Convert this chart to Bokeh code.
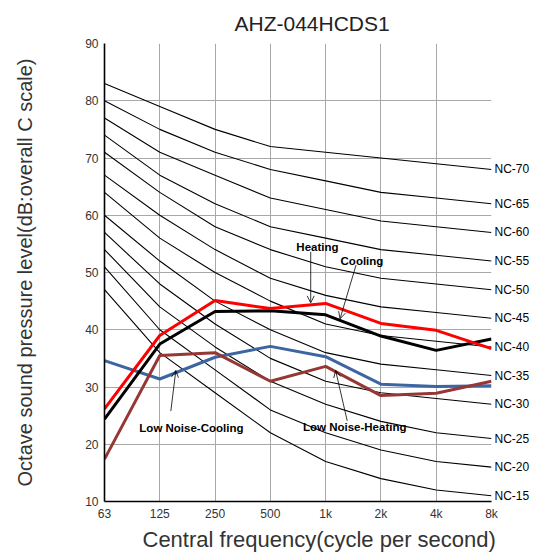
from bokeh.plotting import figure
from bokeh.models import (Range1d, FixedTicker, LinearAxis, Label, Arrow, OpenHead, Title)
from bokeh.embed import file_html
from bokeh.resources import INLINE

# ---- data ----
freq_labels = ["63", "125", "250", "500", "1k", "2k", "4k", "8k"]
y_ticks = [10, 20, 30, 40, 50, 60, 70, 80, 90]

nc15 = [47, 36, 29, 22, 17, 14, 12, 11]
nc20 = [51, 40, 33, 26, 22, 19, 17, 16]
nc25 = [54, 44, 37, 31, 27, 24, 22, 21]
nc30 = [57, 48, 41, 35, 31, 29, 28, 27]
nc35 = [60, 52, 45, 40, 36, 34, 33, 32]
nc40 = [64, 56, 50, 45, 41, 39, 38, 37]
nc45 = [67, 60, 54, 49, 46, 44, 43, 42]
nc50 = [71, 64, 58, 54, 51, 49, 48, 47]
nc55 = [74, 67, 62, 58, 56, 54, 53, 52]
nc60 = [77, 71, 67, 63, 61, 59, 58, 57]
nc65 = [80, 75, 71, 68, 66, 64, 63, 62]
nc70 = [83, 79, 75, 72, 71, 70, 69, 68]
nc_names = ["NC-15", "NC-20", "NC-25", "NC-30", "NC-35", "NC-40",
            "NC-45", "NC-50", "NC-55", "NC-60", "NC-65", "NC-70"]

heating = [26.2, 39.0, 45.1, 43.7, 44.6, 41.1, 39.9, 36.7]
cooling = [24.4, 37.5, 43.2, 43.3, 42.6, 38.9, 36.4, 38.4]
ln_cooling = [34.6, 31.4, 35.2, 37.1, 35.3, 30.5, 30.1, 30.2]
ln_heating = [17.4, 35.5, 36.0, 31.0, 33.6, 28.5, 28.9, 31.0]

nc_curves = [nc15, nc20, nc25, nc30, nc35, nc40, nc45, nc50, nc55, nc60, nc65, nc70]
xs = list(range(len(freq_labels)))

FONT = "Liberation Sans"

p = figure(width=535, height=552, output_backend="svg", toolbar_location=None,
           x_range=Range1d(0, 7), y_range=Range1d(10, 90),
           min_border_left=104, min_border_right=44, min_border_top=42,
           min_border_bottom=50)
p.outline_line_color = None
p.background_fill_color = "white"
p.border_fill_color = "white"

p.title.text = "AHZ-044HCDS1"
p.title.align = "left"
p.title.offset = 130
p.title.text_font = FONT
p.title.text_font_size = "21px"
p.title.text_font_style = "normal"
p.title.text_color = "#222222"
p.title.standoff = 18

# axes
p.xaxis.ticker = FixedTicker(ticks=xs)
p.xaxis.major_label_overrides = {i: lab for i, lab in enumerate(freq_labels)}
p.yaxis.ticker = FixedTicker(ticks=y_ticks)
for ax in (p.xaxis[0], p.yaxis[0]):
    ax.axis_line_color = "black"
    ax.axis_line_width = 1.6
    ax.major_tick_line_color = None
    ax.minor_tick_line_color = None
    ax.major_tick_out = 0
    ax.major_tick_in = 0
    ax.major_label_text_font = FONT
    ax.major_label_text_font_size = "12px"
    ax.major_label_text_color = "#333333"
p.xaxis.major_label_standoff = 5
p.yaxis.major_label_standoff = 6

p.yaxis.axis_label = "Octave sound pressure level(dB:overall C scale)"
p.yaxis.axis_label_text_font = FONT
p.yaxis.axis_label_text_font_size = "20px"
p.yaxis.axis_label_text_font_style = "normal"
p.yaxis.axis_label_text_color = "#333333"
p.yaxis.axis_label_standoff = 46

p.xgrid.ticker = FixedTicker(ticks=xs)
p.ygrid.ticker = FixedTicker(ticks=y_ticks)
p.grid.grid_line_color = "#a8a8a8"
p.grid.grid_line_width = 1

# right axis carrying NC labels
nc_end = [c[-1] for c in nc_curves]
rax = LinearAxis(ticker=FixedTicker(ticks=nc_end),
                 major_label_overrides={v: n for v, n in zip(nc_end, nc_names)})
rax.axis_line_color = None
rax.major_tick_line_color = None
rax.minor_tick_line_color = None
rax.major_tick_out = 0
rax.major_tick_in = 0
rax.major_label_standoff = 3
rax.major_label_text_font = FONT
rax.major_label_text_font_size = "12px"
rax.major_label_text_color = "black"
p.add_layout(rax, "right")

# x axis title below (offset like the reference)
xt = Title(text="Central frequency(cycle per second)", align="left", offset=38,
           text_font=FONT, text_font_size="22px", text_font_style="normal",
           text_color="#333333", standoff=2)
p.add_layout(xt, "below")

# NC curves
for c in nc_curves:
    p.line(xs, c, line_color="black", line_width=1.1)

# measured series
p.line(xs, ln_cooling, line_color="#3D65A2", line_width=3)
p.line(xs, ln_heating, line_color="#953735", line_width=3)
p.line(xs, cooling, line_color="black", line_width=3)
p.line(xs, heating, line_color="#FF0000", line_width=3)

# annotations
def note(text, x, y):
    p.add_layout(Label(x=x, y=y, text=text, text_font=FONT, text_font_size="11.5px",
                       text_font_style="bold", text_baseline="middle",
                       text_align="left", text_color="black"))

def pointer(x0, y0, x1, y1):
    p.add_layout(Arrow(end=OpenHead(size=7, line_width=0.8, line_color="black"),
                       x_start=x0, y_start=y0, x_end=x1, y_end=y1,
                       line_width=0.8, line_color="black"))

note("Heating", 3.47, 54.5)
note("Cooling", 4.27, 52.0)
note("Low Noise-Cooling", 0.63, 22.9)
note("Low Noise-Heating", 3.59, 23.0)
pointer(3.73, 53.6, 3.73, 44.7)
pointer(4.55, 51.3, 4.26, 41.9)
pointer(1.20, 25.8, 1.29, 32.9)
pointer(4.39, 24.1, 4.18, 32.9)

open("out.html", "w").write(file_html(p, INLINE))
